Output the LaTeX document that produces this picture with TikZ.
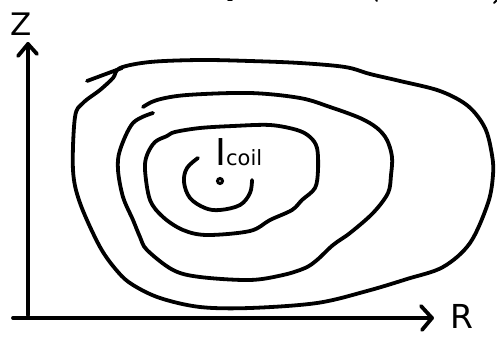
\documentclass[tikz,border=0pt]{standalone}
\usepackage{fontspec}
\setmainfont{DejaVu Sans}
\begin{document}
\begin{tikzpicture}[x=1pt,y=-1pt,
  pen/.style={line width=3.8pt,line cap=round,line join=round},
  frag/.style={line width=2pt,line cap=round}]
\useasboundingbox (0,0) rectangle (497,337);
% axes
\coordinate (ztop) at (28,44);
\coordinate (zbot) at (28,315);
\coordinate (xl) at (13,318);
\coordinate (rtip) at (432,318);
\draw[pen] (zbot) -- (ztop);
\draw[pen] (xl) -- (rtip);
\draw[pen] (18,56) -- (ztop) -- (37,54);
\draw[pen] (421,306) -- (rtip) -- (422,330);
\node[inner sep=0pt,anchor=base,font=\fontsize{31}{31}\selectfont] (Z) at (21,36) {Z};
\node[inner sep=0pt,anchor=base,font=\fontsize{33}{33}\selectfont] (R) at (462,328) {R};
% outer contour
\draw[pen] plot[smooth cycle, tension=0.55] coordinates {
 (120,68) (150,62) (200,60) (250,61) (300,63) (345,67) (370,74) (400,81) (440,91)
 (468,106) (485,128) (492,155) (493,175) (488,203) (470,243) (443,267) (407,279)
 (367,291) (317,303) (250,308) (200,307) (160,298) (133,285) (118,272) (100,247)
 (80,203) (73,170) (75,117) (83,103) (100,90) (113,78)};
\draw[pen] (87,81) -- (122,68);
% second contour
\draw[pen] plot[smooth, tension=0.55] coordinates {
 (143,107) (157,100) (187,95) (250,93) (300,98) (330,107) (360,118) (377,128)
 (387,140) (392,157) (391,175) (388,193) (373,213) (350,233) (333,245) (317,260)
 (305,268) (283,275) (250,280) (200,277) (173,270) (147,250) (140,237) (133,220)
 (123,197) (118,170) (120,150) (133,123) (153,113)};
% third contour
\draw[pen] plot[smooth cycle, tension=0.55] coordinates {
 (167,136) (175,132) (200,128) (233,126) (270,125) (297,130) (310,137) (317,148)
 (318,170) (315,188) (302,200) (292,210) (270,220) (250,231) (207,235) (183,230)
 (163,217) (150,200) (145,170) (147,155) (155,142)};
% inner arc
\draw[pen] plot[smooth, tension=0.6] coordinates {
 (198,158) (187,168) (184,182) (190,198) (205,208) (220,210) (240,205) (250,193) (252,180)};
% coil
\draw[line width=3pt] (220,181) circle (2.5);
\node[inner sep=0pt,anchor=base west] (I) at (215,165) {\fontsize{37}{37}\selectfont I\fontsize{21}{21}\selectfont coil};
% cropped fragments at top
\draw[frag] (228,0) -- (232,0);
\draw[frag] (376,0) -- (377,1);
\draw[frag] (497,0) -- (494,3);
\end{tikzpicture}
\end{document}
